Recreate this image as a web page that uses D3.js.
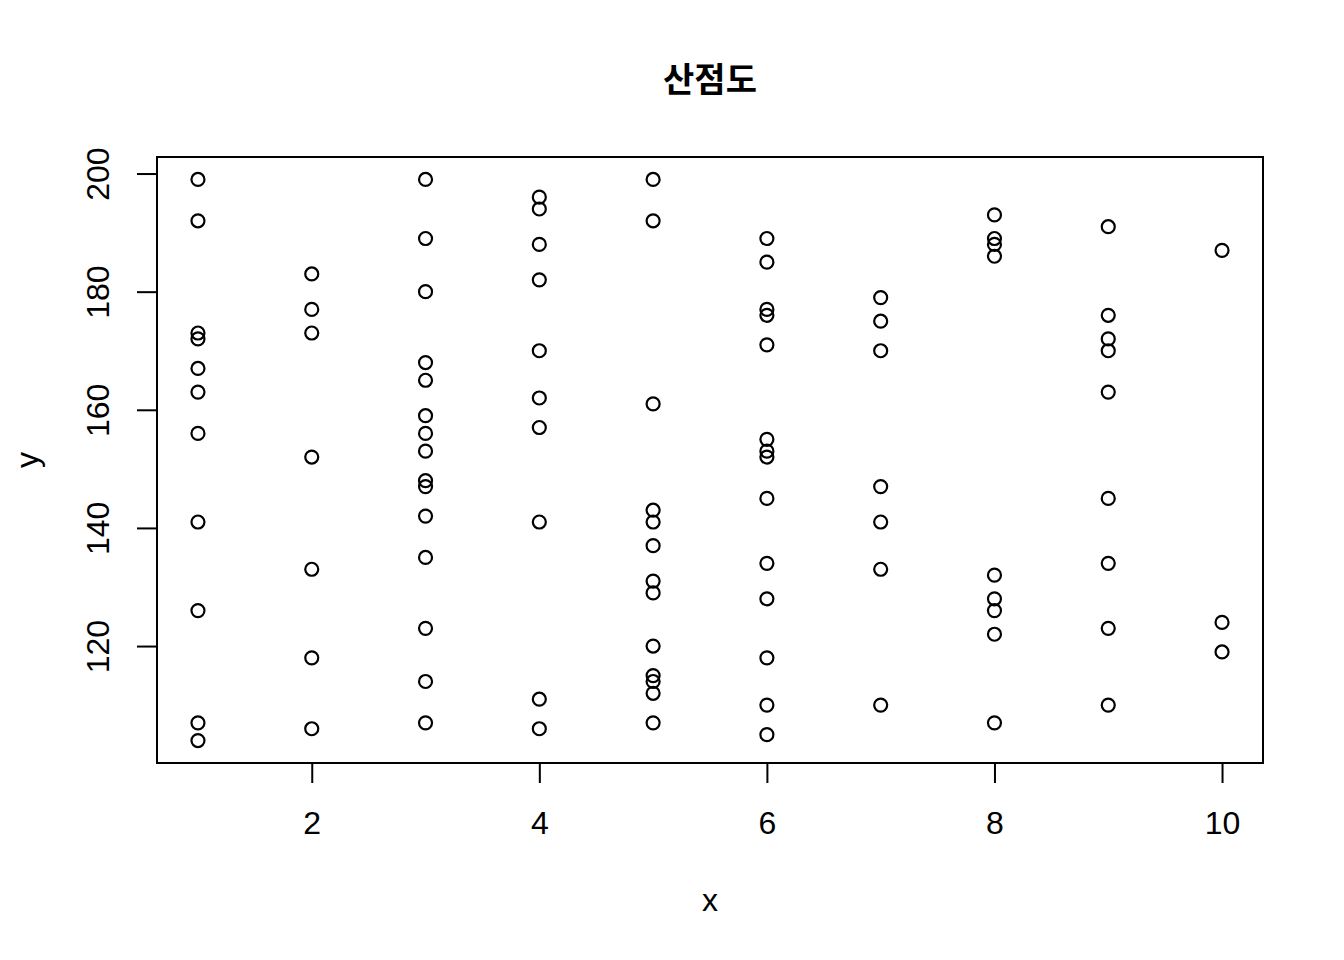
<!DOCTYPE html>
<html><head><meta charset="utf-8">
<script src="https://cdn.jsdelivr.net/npm/d3@7"></script>
<style>body{margin:0;background:#fff}</style>
</head><body>
<script>
const xs1 = [1,1,1,1,1,1,1,1,1,1,1];
const ys1 = [199,192,173,172,167,163,156,141,126,107,104];
const xs2 = [2,2,2,2,2,2,2];
const ys2 = [183,177,173,152,133,118,106];
const xs3 = [3,3,3,3,3,3,3,3,3,3,3,3,3,3,3];
const ys3 = [199,189,180,168,165,159,156,153,148,147,142,135,123,114,107];
const xs4 = [4,4,4,4,4,4,4,4,4,4];
const ys4 = [196,194,188,182,170,162,157,141,111,106];
const xs5 = [5,5,5,5,5,5,5,5,5,5,5,5,5];
const ys5 = [199,192,161,143,141,137,131,129,120,115,114,112,107];
const xs6 = [6,6,6,6,6,6,6,6,6,6,6,6,6,6];
const ys6 = [189,185,177,176,171,155,153,152,145,134,128,118,110,105];
const xs7 = [7,7,7,7,7,7,7];
const ys7 = [179,175,170,147,141,133,110];
const xs8 = [8,8,8,8,8,8,8,8,8];
const ys8 = [193,189,188,186,132,128,126,122,107];
const xs9 = [9,9,9,9,9,9,9,9,9];
const ys9 = [191,176,172,170,163,145,134,123,110];
const xs10 = [10,10,10];
const ys10 = [187,124,119];
const xTicks = [2,4,6,8,10];
const yTicks = [120,140,160,180,200];
const title = "산점도", xLabel = "x", yLabel = "y";

const X = [].concat(xs1,xs2,xs3,xs4,xs5,xs6,xs7,xs8,xs9,xs10);
const Y = [].concat(ys1,ys2,ys3,ys4,ys5,ys6,ys7,ys8,ys9,ys10);
const pts = X.map((x,i)=>({x, y:Y[i]}));

const W=1344,H=960, L=157, R=1263, T=157, B=763;
const svg = d3.select("body").append("svg").attr("width",W).attr("height",H);
const xmin=d3.min(X), xmax=d3.max(X), ymin=d3.min(Y), ymax=d3.max(Y);
const xp=(xmax-xmin)*0.04, yp=(ymax-ymin)*0.04;
const x = d3.scaleLinear().domain([xmin-xp,xmax+xp]).range([L,R]);
const y = d3.scaleLinear().domain([ymin-yp,ymax+yp]).range([B,T]);
const font = "'Liberation Sans', Arial, sans-serif";

svg.append("rect").attr("x",L).attr("y",T).attr("width",R-L).attr("height",B-T)
  .attr("fill","none").attr("stroke","#000").attr("stroke-width",2);

const xa = svg.append("g").attr("transform",`translate(0,${B})`)
  .call(d3.axisBottom(x).tickValues(xTicks).tickSize(20).tickPadding(28).tickFormat(d3.format("d")));
xa.select(".domain").attr("d",`M${x(xTicks[0])},0H${x(xTicks[xTicks.length-1])}`).attr("stroke-width",2);
xa.selectAll(".tick line").attr("stroke-width",2);
xa.selectAll("text").attr("font-family",font).attr("font-size",32).attr("fill","#000");

const ya = svg.append("g").attr("transform",`translate(${L},0)`)
  .call(d3.axisLeft(y).tickValues(yTicks).tickSize(20).tickFormat(d3.format("d")));
ya.select(".domain").attr("d",`M0,${y(yTicks[0])}V${y(yTicks[yTicks.length-1])}`).attr("stroke-width",2);
ya.selectAll(".tick line").attr("stroke-width",2);
ya.selectAll("text").attr("font-family",font).attr("font-size",32).attr("fill","#000")
  .attr("x",null).attr("dy",null).attr("text-anchor","middle")
  .attr("transform","translate(-56,0) rotate(-90)").attr("dominant-baseline","middle").attr("y",0);

svg.append("g").selectAll("circle").data(pts).join("circle")
  .attr("cx",d=>x(d.x)).attr("cy",d=>y(d.y)).attr("r",6.5)
  .attr("fill","none").attr("stroke","#000").attr("stroke-width",2.2);

svg.append("text").attr("x",(L+R)/2).attr("y",92).attr("text-anchor","middle")
  .attr("font-family","'Noto Sans CJK KR', sans-serif").attr("font-weight","bold")
  .attr("font-size",34).text(title);
svg.append("text").attr("x",(L+R)/2).attr("y",911).attr("text-anchor","middle")
  .attr("font-family",font).attr("font-size",32).text(xLabel);
svg.append("text").attr("transform",`translate(38,${(T+B)/2}) rotate(-90)`).attr("text-anchor","middle")
  .attr("font-family",font).attr("font-size",32).text(yLabel);
</script>
</body></html>
